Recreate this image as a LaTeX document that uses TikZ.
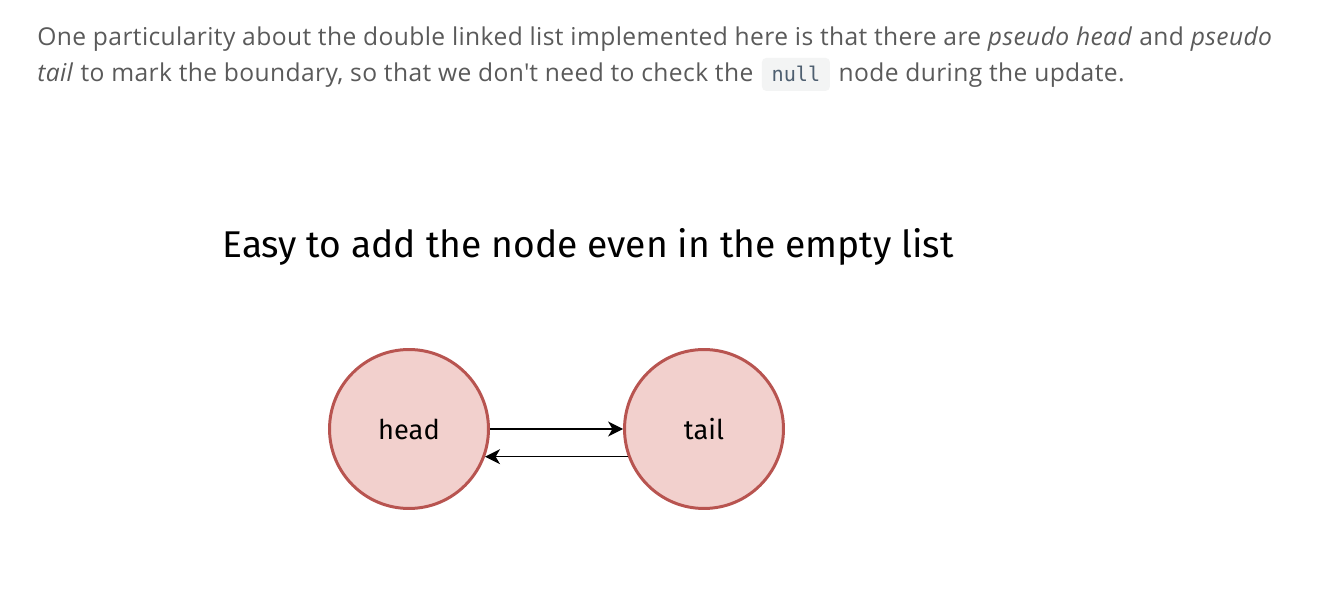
\documentclass[tikz,border=0pt]{standalone}
\usepackage{fontspec}
\setmainfont{Open Sans}[LetterSpace=1.6]
\setmonofont{DejaVu Sans Mono}
\newfontfamily\sketchfont{Fira Sans}
\usetikzlibrary{positioning,arrows.meta}

\definecolor{bodygrey}{HTML}{5A5A5A}
\definecolor{codebg}{HTML}{F3F4F4}
\definecolor{codefg}{HTML}{4E5F70}
\definecolor{nodefill}{HTML}{F2D0CD}
\definecolor{nodeline}{HTML}{B85450}

\begin{document}
\begin{tikzpicture}[x=0.02cm, y=-0.02cm,
	prose/.style={text=bodygrey, font=\fontsize{14}{16}\selectfont, inner sep=0pt, anchor=base west},
	codebox/.style={fill=codebg, text=codefg, rounded corners=2.5pt, font=\ttfamily\fontsize{11.5}{13}\selectfont,
		inner xsep=5.5pt, inner ysep=0pt, minimum height=0.66cm},
	listnode/.style={circle, draw=nodeline, fill=nodefill, line width=1.7pt, minimum size=3.18cm,
		font=\sketchfont\fontsize{15.5}{18}\selectfont},
	link/.style={-{Stealth[length=8.5pt, width=8.5pt, inset=2.5pt]}, line width=0.85pt}]
	
	% page frame
	\useasboundingbox[fill=white] (0,0) rectangle (1318,590);
	
	% 1. the text above the figure
	\node[prose] (para1) at (37,46) {One particularity about the double linked list implemented here is that there are \textit{pseudo head} and \textit{pseudo}};
	\node[prose] (para2a) at (37,82) {\textit{tail} to mark the boundary, so that we don\textquotesingle t need to check the};
	\node[codebox, right=4.5pt of para2a.base east, anchor=base west] (nullcode) {null};
	\node[prose, right=4.5pt of nullcode.base east, anchor=base west] (para2b) {node during the update.};
	
	% 2. title of the figure
	\node[font=\sketchfont\fontsize{21.2}{25}\selectfont] (title) at (588,247) {Easy to add the node even in the empty list};
	
	% 3. the two pseudo nodes
	\node[listnode] (head) at (409,429) {head};
	\node[listnode] (tail) at (704,429) {tail};
	
	% 4. links between them
	\draw[link] (head) -- (tail);
	\draw[link] (tail.200) -- (head.-20);
	
\end{tikzpicture}
\end{document}
